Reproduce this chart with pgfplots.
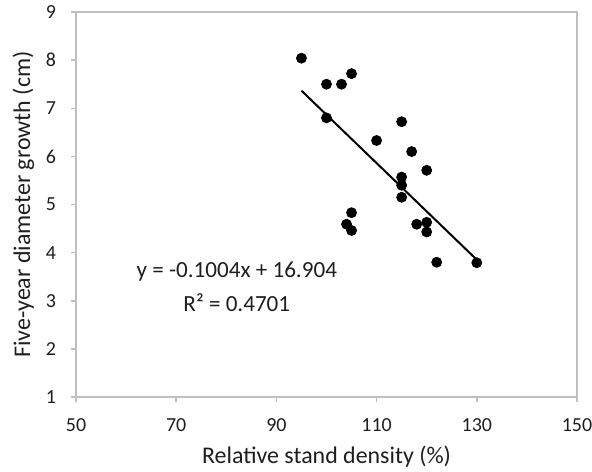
\documentclass[border=0pt]{standalone}
\usepackage{fontspec}
\setmainfont{Carlito}
\usepackage{pgfplots}
\pgfplotsset{compat=1.18}
\definecolor{boxgray}{RGB}{191,191,191}
\definecolor{txt}{RGB}{30,30,30}

\begin{document}
\begin{tikzpicture}
\useasboundingbox (-38bp,-37.5bp) rectangle (258bp,198.5bp);
\begin{axis}[
    scale only axis,
    width=250.5bp, height=192.5bp,
    xmin=50, xmax=150, ymin=1, ymax=9,
    xtick={50,70,90,110,130,150},
    ytick={1,2,...,9},
    xtick pos=bottom, ytick pos=left,
    tick align=outside,
    major tick length=2.5bp,
    axis line style={boxgray, line width=0.75bp},
    tick style={boxgray, line width=0.75bp},
    /pgf/number format/assume math mode=true,
    tick label style={font=\fontsize{10}{12}\selectfont, text=txt},
    xticklabel style={yshift=-5bp},
    yticklabel style={xshift=-4bp},
    label style={font=\fontsize{12}{14}\selectfont, text=txt},
    xlabel={Relative stand density (\%)},
    ylabel={Five-year diameter growth (cm)},
    xlabel style={yshift=0bp},
    ylabel style={yshift=-1bp},
    clip=false,
]
\addplot[only marks, mark=*, mark size=2.5bp, black] coordinates {
    (95,8.04) (100,7.50) (103,7.50) (105,7.72) (100,6.80)
    (115,6.72) (110,6.33) (117,6.10) (120,5.71) (115,5.57)
    (115,5.40) (115,5.15) (105,4.83) (104,4.59) (105,4.46)
    (118,4.59) (120,4.63) (120,4.43) (122,3.80) (130,3.79)
};
\addplot[black, line width=1bp] coordinates {(95,7.366) (130,3.852)};
\node[font=\fontsize{11.6}{14}\selectfont, text=txt] at (axis cs:82.1,3.615) {y = -0.1004x + 16.904};
\node[font=\fontsize{11.6}{14}\selectfont, text=txt] at (axis cs:82.1,2.97) {R² = 0.4701};
\end{axis}
\end{tikzpicture}
\end{document}
